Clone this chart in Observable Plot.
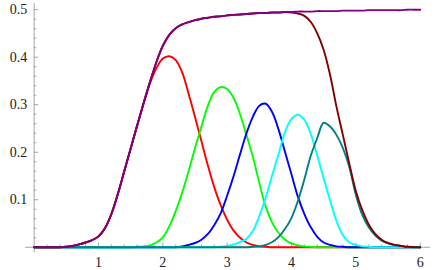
<!DOCTYPE html>
<html>
<head>
<meta charset="utf-8">
<script src="https://cdn.jsdelivr.net/npm/d3@7"></script>
<script src="https://cdn.jsdelivr.net/npm/@observablehq/plot@0.6"></script>
<style>
  html, body { margin: 0; padding: 0; background: #fff; }
  svg { display: block; }
  svg text { font-family: "Liberation Serif", "Times New Roman", "DejaVu Serif", serif !important; }
</style>
</head>
<body>
<div id="chart"></div>
<script>
// sample positions (x)
const xs = [0,0.1,0.2,0.3,0.4,0.5,0.6,0.7,0.8,0.9,1.0,1.1,1.2,1.3,1.4,1.5,1.6,1.7,1.8,1.9,2.0,
  2.1,2.2,2.3,2.4,2.5,2.6,2.7,2.8,2.9,3.0,3.1,3.2,3.3,3.4,3.5,3.6,3.7,3.8,3.9,4.0,
  4.1,4.2,4.3,4.4,4.5,4.6,4.7,4.8,4.9,5.0,5.1,5.2,5.3,5.4,5.5,5.6,5.7,5.8,5.9,6.0];

// series values
const s1 = [0,0,0,0,0,0.001,0.003,0.006,0.010,0.015,0.023,0.040,0.070,0.112,0.160,0.208,0.256,0.302,0.345,0.377,0.397,
  0.402,0.394,0.368,0.323,0.274,0.223,0.172,0.126,0.088,0.058,0.035,0.020,0.010,0.005,0.002,0.001,0,0,0,0,
  0,0,0,0,0,0,0,0,0,0,0,0,0,0,0,0,0,0,0,0];
const s2 = [0,0,0,0,0,0,0,0,0,0,0,0,0,0,0,0,0.001,0.002,0.004,0.010,0.021,
  0.044,0.076,0.115,0.160,0.209,0.254,0.298,0.327,0.337,0.333,0.314,0.280,0.236,0.190,0.135,0.085,0.052,0.030,0.016,0.008,
  0.004,0.002,0.001,0,0,0,0,0,0,0,0,0,0,0,0,0,0,0,0,0];
const s3 = [0,0,0,0,0,0,0,0,0,0,0,0,0,0,0,0,0,0,0,0,0,
  0,0,0.002,0.005,0.009,0.016,0.028,0.047,0.072,0.109,0.150,0.196,0.240,0.275,0.298,0.302,0.284,0.247,0.200,0.153,
  0.106,0.070,0.042,0.022,0.010,0.005,0.002,0.001,0,0,0,0,0,0,0,0,0,0,0,0];
const s4 = [0,0,0,0,0,0,0,0,0,0,0,0,0,0,0,0,0,0,0,0,0,
  0,0,0,0,0,0,0,0,0.001,0.003,0.006,0.011,0.018,0.035,0.066,0.105,0.152,0.197,0.243,0.270,
  0.279,0.268,0.238,0.193,0.145,0.098,0.055,0.025,0.010,0.005,0.002,0.001,0,0,0,0,0,0,0,0];
const s5 = [0,0,0,0,0,0,0,0,0,0,0,0,0,0,0,0,0,0,0,0,0,
  0,0,0,0,0,0,0,0,0,0,0,0,0,0.001,0.002,0.005,0.011,0.022,0.039,0.062,
  0.098,0.143,0.193,0.230,0.262,0.254,0.236,0.208,0.168,0.110,0.068,0.042,0.025,0.014,0.008,0.005,0.003,0.001,0,0];
const s6 = [0,0,0,0,0,0.001,0.003,0.006,0.010,0.015,0.023,0.040,0.070,0.112,0.160,0.208,0.256,0.303,0.348,0.390,0.424,
  0.447,0.461,0.469,0.474,0.478,0.481,0.483,0.485,0.486,0.488,0.489,0.490,0.491,0.492,0.493,0.493,0.494,0.494,0.495,0.494,
  0.492,0.487,0.474,0.450,0.415,0.362,0.295,0.235,0.175,0.118,0.078,0.048,0.028,0.016,0.009,0.005,0.003,0.001,0.0005,0];
const s7 = [0,0,0,0,0,0.001,0.003,0.006,0.010,0.015,0.023,0.040,0.070,0.112,0.160,0.208,0.256,0.303,0.348,0.390,0.424,
  0.447,0.461,0.469,0.474,0.478,0.481,0.483,0.485,0.486,0.488,0.489,0.490,0.491,0.492,0.493,0.493,0.494,0.494,0.495,0.495,
  0.496,0.496,0.496,0.497,0.497,0.497,0.497,0.498,0.498,0.498,0.498,0.499,0.499,0.499,0.499,0.499,0.499,0.500,0.500,0.500];

const seriesNames = ["s1","s2","s3","s4","s5","s6","s7"];
const seriesValues = [s1, s2, s3, s4, s5, s6, s7];
const seriesColors = ["#ff0000","#00ff00","#0000ff","#00ffff","#008080","#800000","#800080"];

// ticks
const xMajor = [1,2,3,4,5,6];
const xLabels = ["1","2","3","4","5","6"];
const yMajor = [0.1,0.2,0.3,0.4,0.5];
const yLabels = ["0.1","0.2","0.3","0.4","0.5"];
const xMinor = d3.range(1,31).map(i => i*0.2).filter(v => Math.abs(v - Math.round(v)) > 1e-6);
const yMinor = d3.range(1,26).map(i => i*0.02).filter(v => Math.abs(v*10 - Math.round(v*10)) > 1e-6);

const rows = [];
seriesNames.forEach((name, k) => {
  xs.forEach((x, i) => rows.push({x, y: seriesValues[k][i], s: name}));
});

const axisColor = "#a6a6a6";
const serif = "Liberation Serif";
const chart = Plot.plot({
  width: 437,
  height: 270,
  marginLeft: 25,
  marginRight: 7,
  marginTop: 3,
  marginBottom: 18,
  x: {domain: [-0.135, 6.16], axis: null},
  y: {domain: [-0.011, 0.513], axis: null},
  color: {type: "ordinal", domain: seriesNames, range: seriesColors},
  style: {background: "#fff"},
  marks: [
    Plot.ruleX([0], {stroke: axisColor, strokeWidth: 1}),
    Plot.ruleY([0], {stroke: axisColor, strokeWidth: 1}),
    Plot.ruleY(yMinor, {y: d => d, x1: 0, x2: 0.04, stroke: axisColor}),
    Plot.ruleY(yMajor, {y: d => d, x1: 0, x2: 0.07, stroke: axisColor}),
    Plot.ruleX(xMinor, {x: d => d, y1: 0, y2: 0.005, stroke: axisColor}),
    Plot.ruleX(xMajor, {x: d => d, y1: 0, y2: 0.009, stroke: axisColor}),
    Plot.text(yMajor, {x: 0, y: d => d, text: (d, i) => yLabels[i], textAnchor: "end", dx: -7, fill: "#222", fontFamily: serif, fontSize: 14}),
    Plot.text(xMajor, {x: d => d, y: 0, text: (d, i) => xLabels[i], dy: 15, fill: "#222", fontFamily: serif, fontSize: 14}),
    Plot.line(rows, {x: "x", y: "y", z: "s", stroke: "s", strokeWidth: 1.9, curve: "catmull-rom"})
  ]
});
document.getElementById("chart").appendChild(chart);
</script>
</body>
</html>
